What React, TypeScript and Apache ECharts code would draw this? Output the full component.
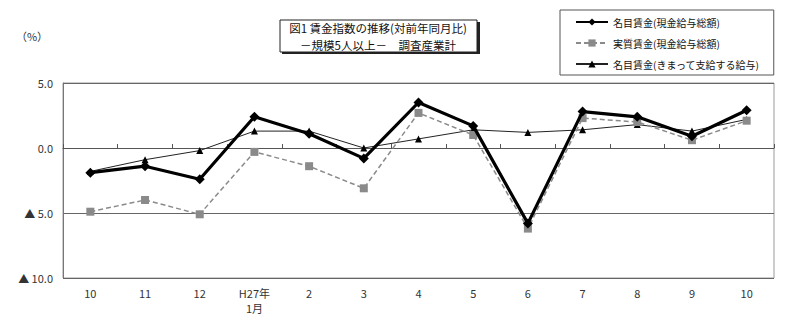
import React, { useEffect, useRef } from "react";
import * as echarts from "echarts";

// Month labels (H26/10 – H27/10)
const months = ["10", "11", "12", "H27年\n1月", "2", "3", "4", "5", "6", "7", "8", "9", "10"];

// Year-on-year change (%)
const nominalTotal = [-1.9, -1.4, -2.4, 2.4, 1.1, -0.8, 3.5, 1.7, -5.8, 2.8, 2.4, 0.9, 2.9];
const realTotal = [-4.9, -4.0, -5.1, -0.3, -1.4, -3.1, 2.7, 1.0, -6.2, 2.3, 2.0, 0.6, 2.1];
const nominalScheduled = [-1.8, -0.9, -0.2, 1.3, 1.3, 0.0, 0.7, 1.4, 1.2, 1.4, 1.8, 1.3, 2.2];

const yTicks = { min: -10, max: 5, step: 5 };

const seriesNames = [
  "名目賃金(現金給与総額)",
  "実質賃金(現金給与総額)",
  "名目賃金(きまって支給する給与)",
];

const titleLines = ["図1 賃金指数の推移(対前年同月比)", "－規模5人以上－　調査産業計"];

const FONT = '"Noto Sans CJK JP", "Noto Sans", sans-serif';

export default function App() {
  const ref = useRef<HTMLDivElement>(null);

  useEffect(() => {
    if (!ref.current) return;
    const chart = echarts.init(ref.current, undefined, { renderer: "svg" });
    chart.setOption({
      animation: false,
      backgroundColor: "#ffffff",
      textStyle: { fontFamily: FONT },
      grid: { left: 63, right: 26, top: 83, bottom: 44, show: true, borderColor: "#9a9a9a", borderWidth: 1 },
      legend: {
        orient: "vertical",
        left: 560,
        top: 10,
        padding: [5, 14, 4, 15],
        itemWidth: 32,
        itemHeight: 9,
        itemGap: 7,
        borderColor: "#555",
        borderWidth: 1,
        backgroundColor: "#fff",
        textStyle: { fontSize: 10, color: "#111", fontFamily: FONT, lineHeight: 14 },
        data: seriesNames,
      },
      graphic: [
        { type: "rect", shape: { x: 282, y: 22, width: 198, height: 32 }, style: { fill: "#222" }, silent: true },
        { type: "rect", shape: { x: 280, y: 20, width: 197, height: 32 }, style: { fill: "#fff", stroke: "#222", lineWidth: 1 }, silent: true },
        {
          type: "text",
          x: 378,
          y: 28,
          style: { text: titleLines[0], font: `11.5px ${FONT}`, fill: "#111", align: "center", verticalAlign: "middle" },
        },
        {
          type: "text",
          x: 378,
          y: 44.5,
          style: { text: titleLines[1], font: `11.5px ${FONT}`, fill: "#111", align: "center", verticalAlign: "middle" },
        },
        {
          type: "text",
          x: 32,
          y: 36,
          style: { text: "（%）", font: `11px ${FONT}`, fill: "#333", align: "center", verticalAlign: "middle" },
        },
      ],
      xAxis: [
        {
          type: "category",
          data: months,
          boundaryGap: true,
          axisLine: { onZero: true, lineStyle: { color: "#555", width: 1 } },
          axisTick: { show: true, inside: true, length: 4, interval: 0, lineStyle: { color: "#555" } },
          axisLabel: { show: false },
        },
        {
          type: "category",
          data: months,
          position: "bottom",
          boundaryGap: true,
          axisLine: { show: false, onZero: false },
          axisTick: { show: false },
          axisLabel: { interval: 0, margin: 7, fontSize: 11, color: "#333", fontFamily: FONT, lineHeight: 15 },
        },
      ],
      yAxis: {
        type: "value",
        min: yTicks.min,
        max: yTicks.max,
        interval: yTicks.step,
        axisLine: { show: true, lineStyle: { color: "#777" } },
        axisTick: { show: false },
        splitLine: { show: true, lineStyle: { color: "#666", width: 1 } },
        axisLabel: {
          margin: 10,
          fontSize: 11,
          color: "#333",
          fontFamily: FONT,
          formatter: (v: number) => (v < 0 ? "▲ " + Math.abs(v).toFixed(1) : v.toFixed(1)),
        },
      },
      series: [
        {
          name: seriesNames[2],
          type: "line",
          data: nominalScheduled,
          xAxisIndex: 0,
          symbol: "triangle",
          symbolSize: 7,
          itemStyle: { color: "#000" },
          lineStyle: { color: "#222", width: 1 },
          z: 2,
        },
        {
          name: seriesNames[1],
          type: "line",
          data: realTotal,
          xAxisIndex: 0,
          symbol: "rect",
          symbolSize: 8,
          itemStyle: { color: "#8a8a8a" },
          lineStyle: { color: "#8a8a8a", width: 1.5, type: [5, 3] },
          z: 3,
        },
        {
          name: seriesNames[0],
          type: "line",
          data: nominalTotal,
          xAxisIndex: 0,
          symbol: "diamond",
          symbolSize: 10,
          itemStyle: { color: "#000" },
          lineStyle: { color: "#000", width: 3.2 },
          z: 4,
        },
      ],
    });
    return () => chart.dispose();
  }, []);

  return <div ref={ref} style={{ width: 800, height: 322, margin: -8 }} />;
}
